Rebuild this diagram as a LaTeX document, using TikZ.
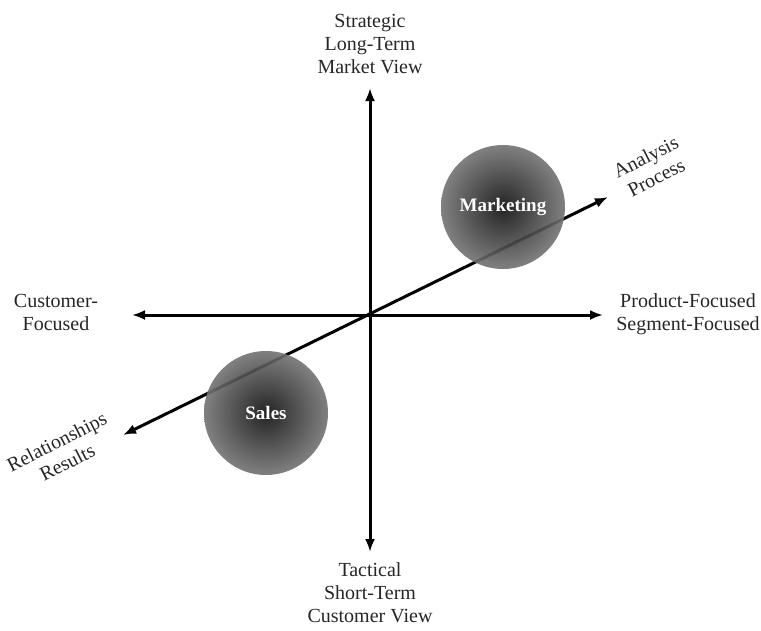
\documentclass[tikz,border=0pt]{standalone}
\usepackage{fontspec}
\setmainfont{Liberation Serif}
\usetikzlibrary{arrows.meta}

\begin{document}
\begin{tikzpicture}[x=1pt,y=-1pt,
    axis/.style={line width=3pt,{Latex[length=13pt,width=10pt]}-{Latex[length=13pt,width=10pt]}},
    lbl/.style={align=center,font=\fontsize{20}{23}\selectfont,text=black!85},
    blob/.style={circle,minimum size=124pt,shading=radial,inner color=black!95,
        outer color=black!55,fill opacity=.9,text opacity=1,text=white,
        font=\bfseries\fontsize{19}{22}\selectfont}]
\useasboundingbox (0,0) rectangle (761,630);
\coordinate (O) at (370,315);
\coordinate (N) at (370,88);
\coordinate (S) at (370,552);
\coordinate (W) at (132,315);
\coordinate (E) at (603,315);
\coordinate (SW) at (123,435);
\coordinate (NE) at (608,197);
% axes
\draw[axis] (S) -- (N);
\draw[axis] (W) -- (E);
\draw[axis] (SW) -- (NE);
% ends
\node[lbl] (strat) at (370,44) {Strategic\\Long-Term\\Market View};
\node[lbl] (tact) at (370,593) {Tactical\\Short-Term\\Customer View};
\node[lbl] (cust) at (56,312) {Customer-\\Focused};
\node[lbl] (prod) at (688,314) {Product-Focused\\Segment-Focused};
\node[lbl,rotate=27] (anal) at (651,167) {Analysis\\Process};
\node[lbl,rotate=27] (rel) at (62,452) {Relationships\\Results};
% functions
\node[blob] (mkt) at (503,207) {Marketing};
\node[blob] (sales) at (266,413) {Sales};
\end{tikzpicture}
\end{document}
